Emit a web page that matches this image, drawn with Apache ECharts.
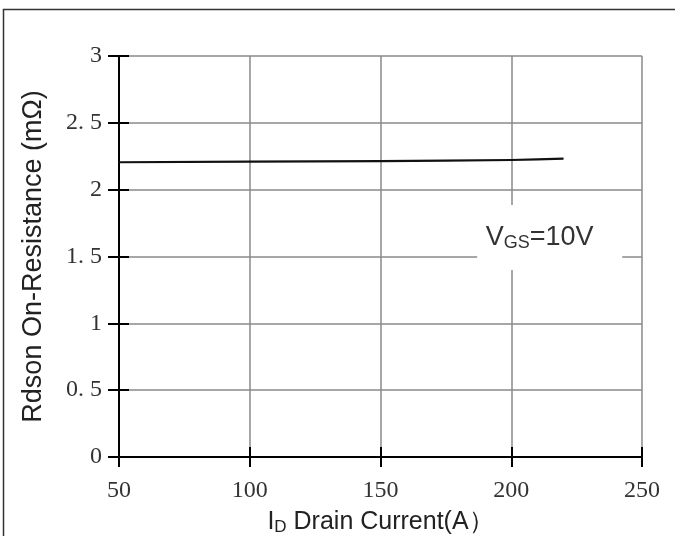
<!DOCTYPE html>
<html>
<head>
<meta charset="utf-8">
<script src="https://cdn.jsdelivr.net/npm/echarts@6/dist/echarts.min.js"></script>
<style>html,body{margin:0;padding:0;background:#fff}#c{width:675px;height:536px}</style>
</head>
<body>
<div id="c"></div>
<script>
var currentA = [50, 100, 150, 200, 220];
var rdsOn = [2.205, 2.21, 2.214, 2.222, 2.232];
var yTickLabels = {0: '0', 0.5: '0. 5', 1: '1', 1.5: '1. 5', 2: '2', 2.5: '2. 5', 3: '3'};
var xTicks = [50, 100, 150, 200, 250];
var annotX = 214.7, annotY = 1.642;

var chart = echarts.init(document.getElementById('c'));
var serif = 'Liberation Serif';
var sans = 'Liberation Sans';
var pts = currentA.map(function (x, i) { return [x, rdsOn[i]]; });

chart.setOption({
  animation: false,
  backgroundColor: '#fff',
  graphic: [{
    type: 'rect', z: -10,
    shape: { x: 3.5, y: 9.5, width: 720, height: 600 },
    style: { fill: 'none', stroke: '#333', lineWidth: 1.5 }
  }],
  grid: { left: 119, right: 33, top: 56, bottom: 79, outerBoundsMode: 'none', containLabel: false },
  xAxis: [{
    type: 'value', min: 50, max: 250, interval: 50,
    axisLine: { show: true, lineStyle: { color: '#000', width: 2 } },
    axisTick: { show: true, length: 10, lineStyle: { color: '#000', width: 2 } },
    axisLabel: { margin: 22, fontFamily: serif, fontSize: 24, color: '#333' },
    splitLine: { show: true, lineStyle: { color: '#8a8a8a', width: 1.5 } },
    name: '{i|I}{d|D}{i| Drain Current(A\uFF09}',
    nameLocation: 'middle', nameGap: 52,
    nameTextStyle: {
      rich: {
        i: { fontFamily: sans, fontSize: 25, color: '#222' },
        d: { fontFamily: sans, fontSize: 17, color: '#222', padding: [10, 0, 0, 0] }
      }
    }
  }, {
    type: 'value', min: 50, max: 250, interval: 50, position: 'bottom',
    axisLine: { show: false },
    axisTick: { show: true, inside: true, length: 10, lineStyle: { color: '#000', width: 2 } },
    axisLabel: { show: false }, splitLine: { show: false }
  }],
  yAxis: [{
    type: 'value', min: 0, max: 3, interval: 0.5,
    axisLine: { show: true, lineStyle: { color: '#000', width: 2 } },
    axisTick: { show: true, length: 11, lineStyle: { color: '#000', width: 2 } },
    axisLabel: {
      margin: 17, fontFamily: serif, fontSize: 24, color: '#333',
      formatter: function (v) { return yTickLabels[v] !== undefined ? yTickLabels[v] : String(v); }
    },
    splitLine: { show: true, lineStyle: { color: '#8a8a8a', width: 1.5 } },
    name: 'Rdson On-Resistance (m\u03A9)',
    nameLocation: 'middle', nameGap: 72,
    nameTextStyle: { fontFamily: sans, fontSize: 27, color: '#222' }
  }, {
    type: 'value', min: 0, max: 3, interval: 0.5, position: 'left',
    axisLine: { show: false },
    axisTick: { show: true, inside: true, length: 10, lineStyle: { color: '#000', width: 2 } },
    axisLabel: { show: false }, splitLine: { show: false }
  }],
  series: [{
    type: 'line',
    data: pts,
    smooth: true,
    showSymbol: false,
    lineStyle: { color: '#111', width: 2.2 },
    z: 5,
    markPoint: {
      silent: true,
      symbol: 'rect',
      symbolSize: [145, 65],
      itemStyle: { color: '#fff' },
      label: {
        show: true, position: 'inside', offset: [-10, 0],
        formatter: '{v|V}{s|GS}{v|=10V}',
        rich: {
          v: { fontFamily: sans, fontSize: 27, color: '#333' },
          s: { fontFamily: sans, fontSize: 18, color: '#333', padding: [11, 0, 0, 0] }
        }
      },
      data: [{ coord: [annotX, annotY] }]
    }
  }]
});
</script>
</body>
</html>
